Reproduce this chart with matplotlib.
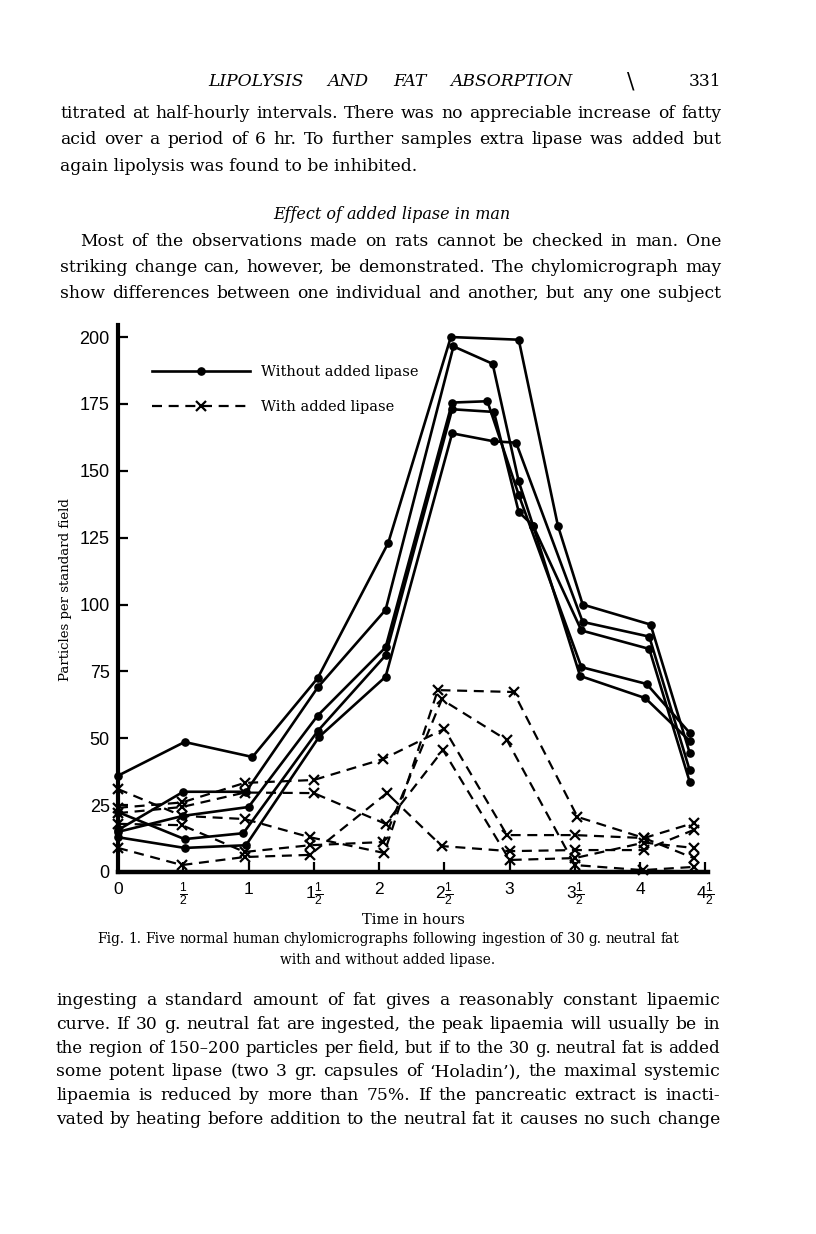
"""Recreation of a scanned journal page: Fig. 1 chylomicrographs with and without lipase."""

import matplotlib
matplotlib.use("Agg")
import matplotlib.pyplot as plt  # noqa: E402
from matplotlib.lines import Line2D  # noqa: E402

# ── Data (hours, particles per standard field) ─────────────────────────────

# without added lipase (solid, dots)
s1_t = [0, 0.51, 1.03, 1.53, 2.07, 2.55, 3.07, 3.37, 3.56, 4.08, 4.38]
s1_v = [36, 48.6, 43, 72.5, 123, 200, 199, 129.5, 100, 92.5, 44.5]
s2_t = [0, 0.5, 0.98, 1.53, 2.05, 2.57, 2.87, 3.07, 3.18, 3.55, 4.07, 4.38]
s2_v = [15.7, 30, 30, 69, 98, 196.5, 190, 146, 129.5, 90.3, 83.4, 33.7]
s3_t = [0, 0.5, 1.0, 1.53, 2.05, 2.56, 2.83, 3.07, 3.55, 4.05, 4.38]
s3_v = [15, 21, 24.3, 58.5, 84, 175.5, 176, 141, 76.6, 70.3, 52]
s4_t = [0, 0.51, 0.96, 1.53, 2.05, 2.56, 2.88, 3.07, 3.18, 3.54, 4.04, 4.38]
s4_v = [22.4, 12.3, 14.5, 52.7, 81, 173, 172, 134.6, 129.5, 73.3, 65, 49]
s5_t = [0, 0.51, 0.98, 1.54, 2.05, 2.56, 2.88, 3.05, 3.56, 4.07, 4.38]
s5_v = [13, 9, 10, 50.5, 73, 164, 161, 160.5, 93.5, 88, 38]

# with added lipase (dashed, crosses)
d1_t = [0, 0.49, 0.97, 1.5, 2.03, 2.5, 2.98, 3.5, 4.03, 4.41]
d1_v = [24, 26, 33.3, 34.4, 42.2, 53.5, 13.8, 13.8, 12.7, 18.3]
d2_t = [0, 0.49, 0.97, 1.47, 2.04, 2.45, 3.03, 3.52, 4.03, 4.41]
d2_v = [31, 21, 19.8, 13, 7.1, 68, 67.3, 20.6, 12.7, 5.2]
d3_t = [0, 0.49, 0.97, 1.47, 2.03, 2.48, 2.98, 3.5, 4.02, 4.41]
d3_v = [18, 17.5, 7.5, 10, 11.2, 64.5, 49.3, 2.6, 0.7, 1.9]
d4_t = [0, 0.49, 0.97, 1.5, 2.05, 2.49, 3.0, 3.5, 4.03, 4.41]
d4_v = [22, 24.3, 29.7, 29.5, 18, 45.6, 4.5, 5.2, 11, 9]
d5_t = [0, 0.49, 0.97, 1.47, 2.06, 2.48, 3.0, 3.5, 4.03, 4.41]
d5_v = [9, 2.6, 5.6, 6.4, 29.5, 9.7, 7.8, 8.2, 8.2, 15.7]

x_ticks = [0, 0.5, 1, 1.5, 2, 2.5, 3, 3.5, 4, 4.5]
x_ticklabels = [r"$0$", r"$\frac{1}{2}$", r"$1$", r"$1\frac{1}{2}$", r"$2$",
                r"$2\frac{1}{2}$", r"$3$", r"$3\frac{1}{2}$", r"$4$", r"$4\frac{1}{2}$"]
y_ticks = [0, 25, 50, 75, 100, 125, 150, 175, 200]

top_lines = [
    "titrated at half-hourly intervals. There was no appreciable increase of fatty",
    "acid over a period of 6 hr. To further samples extra lipase was added but",
]
top_last = "again lipolysis was found to be inhibited."
heading = "Effect of added lipase in man"
mid_first = "Most of the observations made on rats cannot be checked in man.  One"
mid_lines = [
    "striking change can, however, be demonstrated. The chylomicrograph may",
    "show differences between one individual and another, but any one subject",
]
caption_1 = "Fig. 1.  Five normal human chylomicrographs following ingestion of 30 g. neutral fat"
caption_2 = "with and without added lipase."
bottom_lines = [
    "ingesting a standard amount of fat gives a reasonably constant lipaemic",
    "curve.  If 30 g. neutral fat are ingested, the peak lipaemia will usually be in",
    "the region of 150\u2013200 particles per field, but if to the 30 g. neutral fat is added",
    "some potent lipase (two 3 gr. capsules of \u2018Holadin\u2019), the maximal systemic",
    "lipaemia is reduced by more than 75%.  If the pancreatic extract is inacti-",
    "vated by heating before addition to the neutral fat it causes no such change",
]

# ── Style ──────────────────────────────────────────────────────────────────

W, H = 816, 1234
BODY = 12.3
SERIF = ["DejaVu Serif"]
NARROW = ["Liberation Sans Narrow", "Liberation Sans", "DejaVu Sans"]
plt.rcParams.update({
    "mathtext.fontset": "custom",
    "mathtext.rm": "Liberation Sans",
    "mathtext.it": "Liberation Sans:italic",
})

fig = plt.figure(figsize=(W / 100, H / 100), dpi=100)
renderer = fig.canvas.get_renderer()


def px(x, y):
    return x / W, 1 - y / H


def put(s, x, y, size=BODY, ha="left", style="normal"):
    return fig.text(*px(x, y), s, ha=ha, va="baseline", fontsize=size,
                    family=SERIF, style=style)


def justify(s, y, x0, x1, size=BODY, style="normal"):
    # spread words over [x0, x1]; shrink the type if the line will not fit
    words = s.split()
    while True:
        items = [put(w, 0, y, size=size, style=style) for w in words]
        widths = [t.get_window_extent(renderer).width for t in items]
        gap = (x1 - x0 - sum(widths)) / (len(words) - 1)
        if gap >= 0.27 * size * 100 / 72:
            break
        for t in items:
            t.remove()
        size *= 0.985
    x = x0
    for t, w in zip(items, widths):
        t.set_position(px(x, y))
        x += w + gap


# ── Page text ──────────────────────────────────────────────────────────────

justify("LIPOLYSIS AND FAT ABSORPTION", 86, 208, 573, style="italic")
put("\\", 627, 88, size=16)
put("331", 721, 86, ha="right")

for i, line in enumerate(top_lines):
    justify(line, 118 + 26.5 * i, 60, 721)
put(top_last, 60, 171)
put(heading, 392, 219, size=11.5, ha="center", style="italic")
justify(mid_first, 246, 80, 721)
for i, line in enumerate(mid_lines):
    justify(line, 272 + 26 * i, 60, 721)

justify(caption_1, 943, 97, 679, size=9.9)
put(caption_2, 388, 964, size=9.9, ha="center")

for i, line in enumerate(bottom_lines):
    justify(line, 1005 + 23.8 * i, 56, 720)

# ── Chart ──────────────────────────────────────────────────────────────────

ax = fig.add_axes([118 / W, 1 - 872 / H, 590 / W, 547 / H])
ax.set_xlim(0, 4.52)
ax.set_ylim(0, 204.5)
ax.patch.set_alpha(0)

solid = [(s1_t, s1_v), (s2_t, s2_v), (s3_t, s3_v), (s4_t, s4_v), (s5_t, s5_v)]
dashed = [(d1_t, d1_v), (d2_t, d2_v), (d3_t, d3_v), (d4_t, d4_v), (d5_t, d5_v)]
for t, v in solid:
    ax.plot(t, v, color="black", lw=1.9, marker="o", ms=5.2, clip_on=False)
for t, v in dashed:
    ax.plot(t, v, color="black", lw=1.6, dashes=(4.5, 3), marker="x",
            ms=7, mew=1.6, clip_on=False)

for side in ("top", "right"):
    ax.spines[side].set_visible(False)
ax.spines["left"].set_linewidth(3)
ax.spines["bottom"].set_linewidth(3.2)

ax.set_xticks(x_ticks)
ax.set_xticklabels(x_ticklabels, fontsize=12.5)
ax.set_yticks(y_ticks)
ax.set_yticklabels([str(v) for v in y_ticks], family=NARROW, fontsize=13)
ax.tick_params(direction="in", length=7, width=1.6, color="black")
ax.tick_params(axis="x", pad=6)
ax.tick_params(axis="y", pad=6)

ax.set_xlabel("Time in hours", family=SERIF, fontsize=10.5, labelpad=4)
ax.set_ylabel("Particles per standard field", family=SERIF, fontsize=9.5)
ax.yaxis.set_label_coords(-0.078, 0.517)

handles = [
    Line2D([], [], color="black", lw=1.9, marker="o", ms=5.2),
    Line2D([], [], color="black", lw=1.6, dashes=(4.5, 3), marker="x", ms=7, mew=1.6),
]
ax.legend(handles, ["Without added lipase", "With added lipase"],
          loc="upper left", bbox_to_anchor=(0.045, 0.94), frameon=False,
          handlelength=6.7, handletextpad=0.8, labelspacing=1.45,
          prop={"family": SERIF, "size": 10.5}, borderpad=0)

fig.savefig("out.png", dpi=100)
